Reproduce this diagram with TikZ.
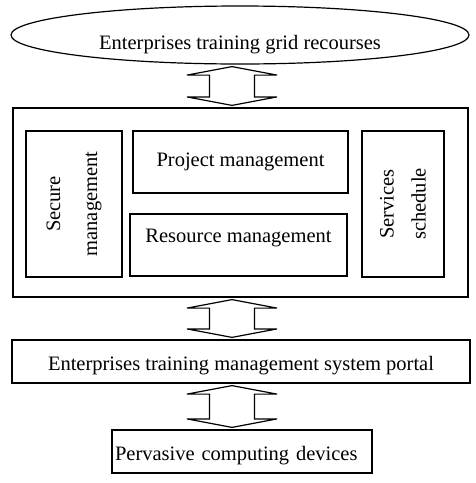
\documentclass[tikz,border=0pt]{standalone}
\usepackage{fontspec}
\setmainfont{Liberation Serif}
\usetikzlibrary{shapes.geometric,calc}

\begin{document}
\begin{tikzpicture}[x=1pt,y=-1pt]
% Styles
\tikzstyle{trait}=[line width=1.2pt]
\tikzstyle{boite}=[trait,draw,rectangle,inner sep=0pt,font=\fontsize{20.5}{24}\selectfont]
\tikzstyle{ligne}=[text height=14pt,text depth=5pt]
\tikzstyle{flechebloc}=[trait,line join=miter]
% Dimensions des fleches
\def\Xfl{232pt}
\def\Lt{45pt}
\def\Lc{22.5pt}
\def\Ht{8.5pt}
\def\Ec{2pt}
% Cadre
\useasboundingbox (0,0) rectangle (475,483);
% Ressources de la grille
\node[boite,ligne,ellipse,minimum width=458pt,minimum height=58pt,text height=34pt] (grille) at (240,35) {Enterprises training grid recourses};
% Systeme de gestion
\node[boite,minimum width=455pt,minimum height=189pt] (systeme) at (240.5,202.5) {};
\node[boite,rotate=90,align=center,minimum width=146pt,minimum height=96pt] (securite) at (74,204) {Secure\\[13pt]management};
\node[boite,ligne,minimum width=215pt,minimum height=62pt] (projet) at (240.5,162) {Project management};
\node[boite,ligne,minimum width=217pt,minimum height=62pt,text depth=20pt] (ressource) at (238.5,245) {Resource management};
\node[boite,rotate=90,align=center,minimum width=146pt,minimum height=82pt] (services) at (403,204) {Services\\[8pt]schedule};
% Portail
\node[boite,ligne,minimum width=458pt,minimum height=43pt,text height=23pt] (portail) at (241,361.5) {Enterprises training management system portal};
% Terminaux
\node[boite,ligne,minimum height=43pt,text height=23pt,inner xsep=3pt,text width=254pt,align=left] (terminaux) at (242,451.5) {Pervasive computing devices};
% Fleches doubles
\foreach \a/\b in {grille/systeme,systeme/portail,portail/terminaux}
  \draw[flechebloc] let \p1=(\a.south), \p2=(\b.north) in
    (\Xfl,\y1-\Ec) -- (\Xfl+\Lt,\y1-\Ec-\Ht) -- (\Xfl+\Lc,\y1-\Ec-\Ht)
    -- (\Xfl+\Lc,\y2+\Ec+\Ht) -- (\Xfl+\Lt,\y2+\Ec+\Ht) -- (\Xfl,\y2+\Ec)
    -- (\Xfl-\Lt,\y2+\Ec+\Ht) -- (\Xfl-\Lc,\y2+\Ec+\Ht)
    -- (\Xfl-\Lc,\y1-\Ec-\Ht) -- (\Xfl-\Lt,\y1-\Ec-\Ht) -- cycle;
\end{tikzpicture}
\end{document}
